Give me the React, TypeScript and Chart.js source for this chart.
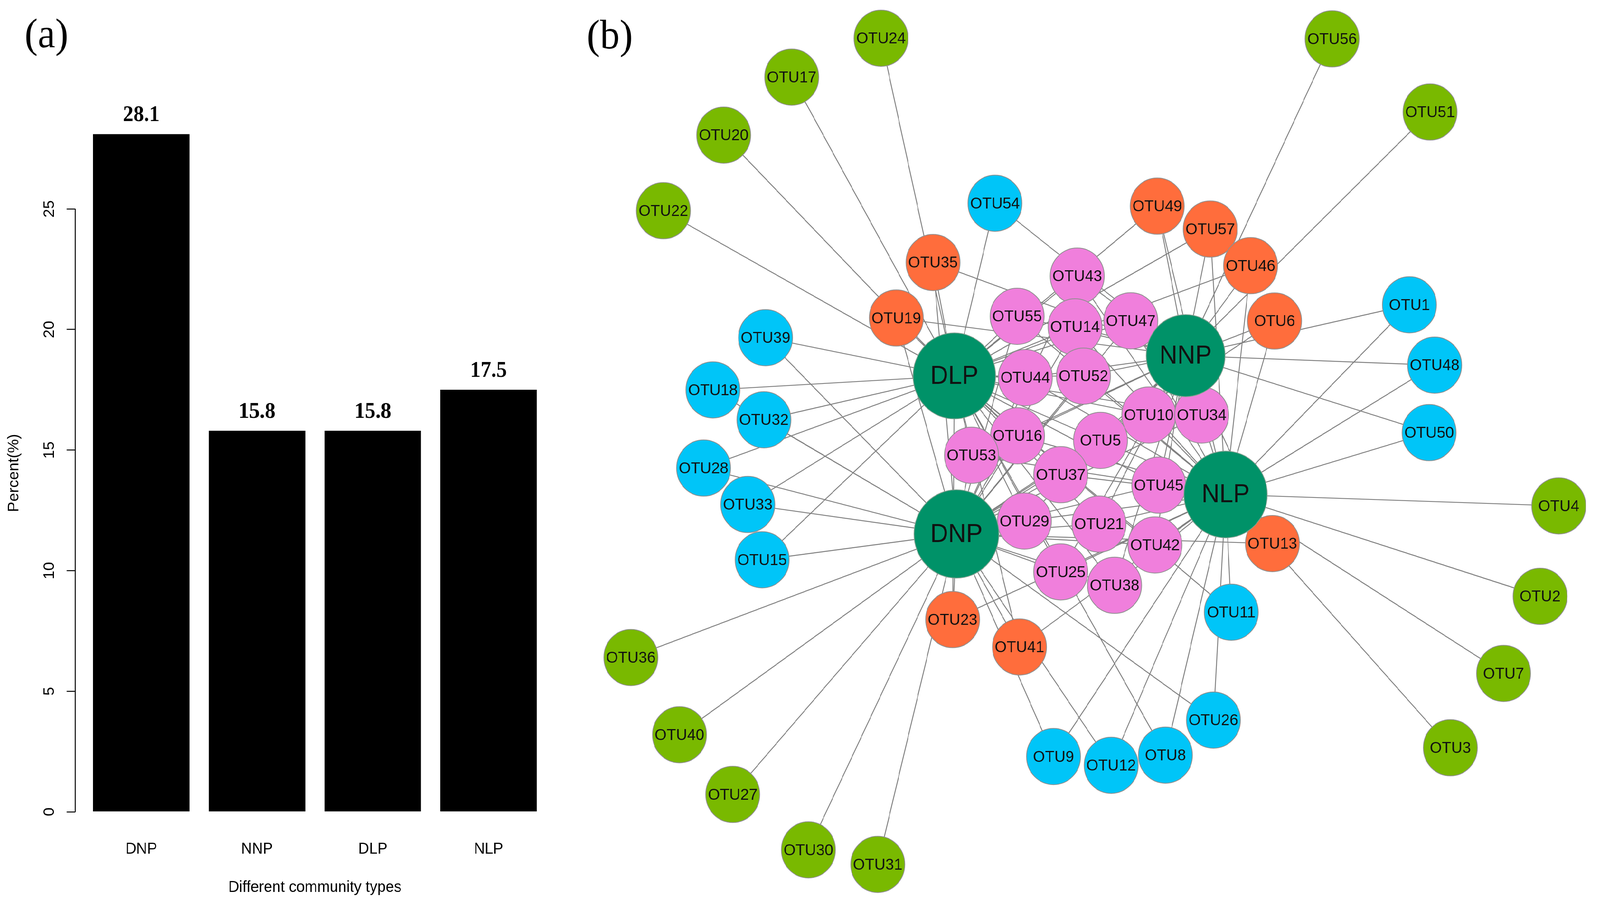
import React, { useEffect, useRef } from 'react';
import { Chart, registerables } from 'chart.js';

Chart.register(...registerables);

// ---------------- panel (a): bar chart data ----------------
const categories = ['DNP', 'NNP', 'DLP', 'NLP'];
const percentValues = [28.1, 15.8, 15.8, 17.5];
const percentTicks = [0, 5, 10, 15, 20, 25];

// ---------------- panel (b): network data ----------------
const hubNames = ['DLP', 'NNP', 'NLP', 'DNP'];
const hubX = [930.5, 1156, 1195, 932.5];
const hubY = [352, 333, 463, 500];

// OTUs shared by all four community types
const pinkNames = ['OTU43', 'OTU55', 'OTU14', 'OTU47', 'OTU44', 'OTU52', 'OTU10', 'OTU34', 'OTU16', 'OTU5', 'OTU53', 'OTU37', 'OTU45', 'OTU29', 'OTU21', 'OTU42', 'OTU25', 'OTU38'];
const pinkX = [1050.3, 991.7, 1048.2, 1102.5, 999.7, 1056.4, 1120.1, 1171.6, 992.1, 1073, 947.2, 1034.2, 1129.8, 998.8, 1071.5, 1126.1, 1034.2, 1086.7];
const pinkY = [258.5, 296.2, 306.1, 300.4, 353.6, 352.2, 388.6, 388.6, 408.1, 412.4, 426.3, 444.5, 454.3, 487.9, 490.7, 510.3, 535.5, 548.1];

// OTUs shared by three community types
const orangeNames = ['OTU35', 'OTU19', 'OTU49', 'OTU57', 'OTU46', 'OTU6', 'OTU13', 'OTU23', 'OTU41'];
const orangeX = [909.7, 873.9, 1128.3, 1180, 1219.3, 1242.7, 1240.6, 928.8, 994];
const orangeY = [245.8, 297.8, 193, 214.5, 248.8, 300.6, 509, 580.2, 605.8];
const orangeLinks = ['DLP DNP NNP', 'DLP NNP DNP', 'NNP DLP NLP', 'NNP DLP NLP', 'NNP DLP NLP', 'NNP NLP DNP', 'NLP DNP NNP', 'DNP NLP DLP', 'DNP NLP DLP'];

// OTUs shared by two community types
const cyanNames = ['OTU54', 'OTU39', 'OTU18', 'OTU32', 'OTU28', 'OTU33', 'OTU15', 'OTU1', 'OTU48', 'OTU50', 'OTU11', 'OTU26', 'OTU9', 'OTU12', 'OTU8'];
const cyanX = [970.1, 746.4, 695.1, 744.8, 686, 729.1, 743.1, 1374.2, 1398.8, 1393.4, 1200.5, 1183.1, 1027.2, 1083.4, 1136.3];
const cyanY = [190.3, 316.2, 365.1, 393.1, 438.3, 472.4, 524.2, 285.4, 341.9, 405.1, 573.3, 674.3, 708.4, 716.6, 707.1];
const cyanLinks = ['DLP NNP', 'DLP DNP', 'DLP DNP', 'DLP DNP', 'DLP DNP', 'DLP DNP', 'DLP DNP', 'NNP NLP', 'NNP NLP', 'NNP NLP', 'NLP DLP', 'NLP DNP', 'DNP NLP', 'DNP NLP', 'NLP DLP'];

// OTUs unique to one community type
const greenNames = ['OTU24', 'OTU17', 'OTU20', 'OTU22', 'OTU56', 'OTU51', 'OTU4', 'OTU2', 'OTU7', 'OTU3', 'OTU36', 'OTU40', 'OTU27', 'OTU30', 'OTU31'];
const greenX = [859, 771.9, 705.6, 646.8, 1298.8, 1394.3, 1519.8, 1501.6, 1466, 1414.1, 615.1, 662.5, 714.4, 788.2, 855.8];
const greenY = [35.8, 72.2, 126.5, 197.3, 36.4, 104.9, 473.7, 558.4, 630.6, 700.2, 615.7, 688, 743.9, 795.8, 809.4];
const greenLinks = ['DLP', 'DLP', 'DLP', 'DLP', 'NNP', 'NNP', 'NLP', 'NLP', 'NLP', 'NLP', 'DNP', 'DNP', 'DNP', 'DNP', 'DNP'];

const SANS = '"Liberation Sans", Arial, sans-serif';
const SERIF = '"Liberation Serif", "Times New Roman", serif';

const W = 4266;
const H = 2320;
const BAR_W = 1520;
const NET_LEFT = 1530;
const NET_W = W - NET_LEFT;
const UNIT = W / 1560;

function BarPanel() {
  const ref = useRef<HTMLCanvasElement>(null);
  useEffect(() => {
    const canvas = ref.current!;
    const barLabels = {
      id: 'barLabels',
      afterDatasetsDraw(chart: any) {
        const ctx = chart.ctx;
        const meta = chart.getDatasetMeta(0);
        ctx.save();
        ctx.font = `bold 56px ${SERIF}`;
        ctx.fillStyle = '#000';
        ctx.textAlign = 'center';
        ctx.textBaseline = 'middle';
        meta.data.forEach((bar: any, i: number) => {
          ctx.fillText(percentValues[i].toFixed(1), bar.x, bar.y - 48);
        });
        ctx.restore();
      },
    };
    const rAxis = {
      id: 'rAxis',
      afterDraw(chart: any) {
        const ys = chart.scales.y;
        const ctx = chart.ctx;
        const x0 = chart.chartArea.left;
        ctx.save();
        ctx.strokeStyle = '#000';
        ctx.lineWidth = 2.5;
        ctx.beginPath();
        ctx.moveTo(x0, ys.getPixelForValue(percentTicks[0]));
        ctx.lineTo(x0, ys.getPixelForValue(percentTicks[percentTicks.length - 1]));
        ctx.stroke();
        ctx.font = `40px ${SANS}`;
        ctx.fillStyle = '#000';
        ctx.textAlign = 'center';
        ctx.textBaseline = 'middle';
        ys.ticks.forEach((t: any) => {
          const py = ys.getPixelForValue(t.value);
          ctx.save();
          ctx.translate(x0 - 68, py);
          ctx.rotate(-Math.PI / 2);
          ctx.fillText(String(t.value), 0, 0);
          ctx.restore();
        });
        ctx.font = `105px ${SERIF}`;
        ctx.textBaseline = 'alphabetic';
        ctx.fillText('(a)', 124, 121);
        ctx.restore();
      },
    };
    const chart = new Chart(canvas, {
      type: 'bar',
      data: {
        datasets: [
          {
            data: categories.map((c, i) => ({ x: 0.7 + 1.2 * i, y: percentValues[i] })),
            backgroundColor: '#000',
            borderWidth: 0,
            barPercentage: 1 / 1.2,
            categoryPercentage: 1,
          } as any,
        ],
      },
      options: {
        responsive: false,
        animation: false,
        events: [],
        layout: { autoPadding: false, padding: { top: 274, right: 41.5, left: 0, bottom: 0 } },
        plugins: { legend: { display: false }, tooltip: { enabled: false } },
        scales: {
          x: {
            type: 'linear',
            offset: false,
            bounds: 'data',
            min: 0.016,
            max: 4.984,
            afterBuildTicks: (scale: any) => {
              scale.ticks = categories.map((c, i) => ({ value: 0.7 + 1.2 * i }));
            },
            afterFit: (scale: any) => {
              scale.height = 171.6;
            },
            grid: { display: false, drawTicks: false },
            border: { display: false },
            ticks: {
              autoSkip: false,
              maxRotation: 0,
              minRotation: 0,
              padding: 3,
              color: '#000',
              font: { family: SANS, size: 40 },
              callback: (v: any, i: number) => categories[i],
            },
            title: {
              display: true,
              text: 'Different community types',
              color: '#000',
              font: { family: SANS, size: 40 },
              padding: { top: 0, bottom: 23 },
            },
          } as any,
          y: {
            type: 'linear',
            bounds: 'data',
            min: -1.124,
            max: 29.224,
            afterBuildTicks: (scale: any) => {
              scale.ticks = percentTicks.map((v) => ({ value: v }));
            },
            afterFit: (scale: any) => {
              scale.width = 200.7;
            },
            grid: { display: true, drawOnChartArea: false, drawTicks: true, tickLength: 23, color: '#000', lineWidth: 2.5 },
            border: { display: false },
            ticks: { display: false },
            title: {
              display: true,
              text: 'Percent(%)',
              color: '#000',
              font: { family: SANS, size: 40 },
              padding: { top: 14, bottom: 0 },
            },
          } as any,
        },
      },
      plugins: [barLabels, rAxis],
    });
    return () => chart.destroy();
  }, []);
  return (
    <canvas
      ref={ref}
      width={BAR_W}
      height={H}
      style={{ position: 'absolute', left: 0, top: 0, width: BAR_W, height: H }}
    />
  );
}

function NetworkPanel() {
  const ref = useRef<HTMLCanvasElement>(null);
  useEffect(() => {
    const canvas = ref.current!;
    const groups = [
      { names: greenNames, xs: greenX, ys: greenY, links: greenLinks.map((s) => s.split(' ')), color: '#79b900', order: 4 },
      { names: cyanNames, xs: cyanX, ys: cyanY, links: cyanLinks.map((s) => s.split(' ')), color: '#00c5f8', order: 3 },
      { names: orangeNames, xs: orangeX, ys: orangeY, links: orangeLinks.map((s) => s.split(' ')), color: '#ff6d3c', order: 2 },
      { names: pinkNames, xs: pinkX, ys: pinkY, links: pinkNames.map(() => hubNames), color: '#f07fdc', order: 1 },
    ];
    const edgePoints: any[] = [];
    groups.forEach((g) => {
      g.names.forEach((n, i) => {
        g.links[i].forEach((h) => {
          const k = hubNames.indexOf(h);
          edgePoints.push({ x: g.xs[i], y: g.ys[i] }, { x: hubX[k], y: hubY[k] }, { x: null, y: null });
        });
      });
    });
    const datasets: any[] = [
      {
        label: 'edges',
        data: edgePoints,
        showLine: true,
        spanGaps: false,
        borderColor: 'rgba(105,105,105,0.85)',
        borderWidth: 2.4,
        pointRadius: 0,
        order: 10,
      },
      ...groups.map((g) => ({
        label: g.color,
        names: g.names,
        labelSize: 41,
        data: g.names.map((n, i) => ({ x: g.xs[i], y: g.ys[i] })),
        pointRadius: 72,
        backgroundColor: g.color,
        borderColor: '#8f8f8f',
        borderWidth: 2,
        order: g.order,
      })),
      {
        label: 'hubs',
        names: hubNames,
        labelSize: 66,
        data: hubNames.map((n, i) => ({ x: hubX[i], y: hubY[i] })),
        pointRadius: [110, 105, 111, 113],
        backgroundColor: '#009268',
        borderColor: '#7f9f8f',
        borderWidth: 2,
        order: 0,
      },
    ];
    const nodeLabels = {
      id: 'nodeLabels',
      afterDatasetDraw(chart: any, args: any) {
        const ds = chart.data.datasets[args.index];
        if (!ds.names) return;
        const ctx = chart.ctx;
        ctx.save();
        ctx.font = `${ds.labelSize}px ${SANS}`;
        ctx.fillStyle = '#111';
        ctx.textAlign = 'center';
        ctx.textBaseline = 'middle';
        args.meta.data.forEach((pt: any, i: number) => {
          ctx.fillText(ds.names[i], pt.x, pt.y + 2);
        });
        ctx.restore();
      },
      afterDraw(chart: any) {
        const ctx = chart.ctx;
        ctx.save();
        ctx.font = `105px ${SERIF}`;
        ctx.fillStyle = '#000';
        ctx.textAlign = 'center';
        ctx.textBaseline = 'alphabetic';
        ctx.fillText('(b)', 96, 124);
        ctx.restore();
      },
    };
    const chart = new Chart(canvas, {
      type: 'scatter',
      data: { datasets },
      options: {
        responsive: false,
        animation: false,
        events: [],
        layout: { autoPadding: false, padding: 0 },
        plugins: { legend: { display: false }, tooltip: { enabled: false } },
        scales: {
          x: { type: 'linear', display: false, min: NET_LEFT / UNIT, max: W / UNIT },
          y: { type: 'linear', display: false, min: 0, max: H / UNIT, reverse: true },
        },
      },
      plugins: [nodeLabels],
    });
    return () => chart.destroy();
  }, []);
  return (
    <canvas
      ref={ref}
      width={NET_W}
      height={H}
      style={{ position: 'absolute', left: NET_LEFT, top: 0, width: NET_W, height: H }}
    />
  );
}

export default function App() {
  // the figure is laid out for 4266x2320; fit it to the actual viewport
  const vw = typeof window !== 'undefined' && window.innerWidth ? window.innerWidth : W;
  const vh = typeof window !== 'undefined' && window.innerHeight ? window.innerHeight : H;
  const sx = Math.min(1, vw / W);
  const sy = Math.min(1, vh / H);
  return (
    <div style={{ position: 'absolute', left: 0, top: 0, width: W * sx, height: H * sy, overflow: 'hidden', background: '#fff' }}>
      <div
        style={{
          position: 'absolute',
          left: 0,
          top: 0,
          width: W,
          height: H,
          background: '#fff',
          transform: `scale(${sx}, ${sy})`,
          transformOrigin: '0 0',
        }}
      >
        <BarPanel />
        <NetworkPanel />
      </div>
    </div>
  );
}
